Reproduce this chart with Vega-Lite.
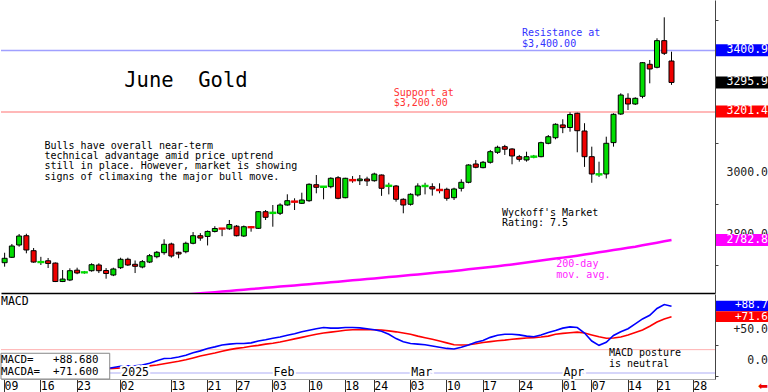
{
  "$schema": "https://vega.github.io/schema/vega-lite/v6.json",
  "padding": 0,
  "spacing": 1,
  "background": "#ffffff",
  "config": {"view": {"stroke": null}, "font": "DejaVu Sans Mono", "axis": {"grid": false}},
  "datasets": {
    "gold": [
      {"date":"2024-12-09","open":2708.9,"high":2741.3,"low":2695.9,"close":2723.2},
      {"date":"2024-12-10","open":2726.5,"high":2769.8,"low":2724.2,"close":2763.3},
      {"date":"2024-12-11","open":2766.5,"high":2802.4,"low":2761.0,"close":2795.8},
      {"date":"2024-12-12","open":2796.8,"high":2803.2,"low":2739.5,"close":2750.3},
      {"date":"2024-12-13","open":2748.0,"high":2756.8,"low":2708.7,"close":2711.0},
      {"date":"2024-12-16","open":2710.5,"high":2728.0,"low":2701.4,"close":2711.5},
      {"date":"2024-12-17","open":2715.2,"high":2724.2,"low":2691.6,"close":2706.4},
      {"date":"2024-12-18","open":2707.7,"high":2709.6,"low":2645.8,"close":2647.6},
      {"date":"2024-12-19","open":2647.6,"high":2685.1,"low":2645.8,"close":2655.6},
      {"date":"2024-12-20","open":2652.5,"high":2690.6,"low":2649.0,"close":2682.8},
      {"date":"2024-12-23","open":2684.6,"high":2692.6,"low":2671.5,"close":2675.4},
      {"date":"2024-12-24","open":2677.0,"high":2682.0,"low":2673.0,"close":2678.0},
      {"date":"2024-12-26","open":2682.8,"high":2707.0,"low":2679.6,"close":2702.4},
      {"date":"2024-12-27","open":2701.4,"high":2707.0,"low":2675.2,"close":2682.8},
      {"date":"2024-12-30","open":2683.5,"high":2691.3,"low":2656.8,"close":2673.7,"macd":-13,"signal":-13},
      {"date":"2024-12-31","open":2668.8,"high":2692.6,"low":2665.2,"close":2688.4,"macd":-11,"signal":-12.5},
      {"date":"2025-01-02","open":2692.6,"high":2725.2,"low":2688.4,"close":2720.0,"macd":-9,"signal":-12},
      {"date":"2025-01-03","open":2720.0,"high":2725.2,"low":2698.2,"close":2701.4,"macd":-8.5,"signal":-11.5},
      {"date":"2025-01-06","open":2703.7,"high":2716.1,"low":2675.2,"close":2697.2,"macd":-8.5,"signal":-11},
      {"date":"2025-01-07","open":2694.9,"high":2717.7,"low":2690.6,"close":2712.2,"macd":-7,"signal":-9.5},
      {"date":"2025-01-08","open":2711.0,"high":2737.2,"low":2707.7,"close":2731.7,"macd":-4,"signal":-8.5,"ma":2595},
      {"date":"2025-01-09","open":2728.4,"high":2747.0,"low":2723.2,"close":2742.8,"macd":0,"signal":-7,"ma":2597},
      {"date":"2025-01-10","open":2741.5,"high":2785.1,"low":2734.8,"close":2768.8,"macd":3.5,"signal":-5,"ma":2599},
      {"date":"2025-01-13","open":2769.8,"high":2774.1,"low":2725.2,"close":2730.7,"macd":4,"signal":-3,"ma":2601},
      {"date":"2025-01-14","open":2742.8,"high":2744.7,"low":2723.2,"close":2737.1,"macd":6,"signal":-1,"ma":2603},
      {"date":"2025-01-15","open":2744.7,"high":2777.3,"low":2739.5,"close":2772.1,"macd":9,"signal":1.5,"ma":2605},
      {"date":"2025-01-16","open":2772.1,"high":2808.7,"low":2768.8,"close":2796.8,"macd":13,"signal":4.5,"ma":2607},
      {"date":"2025-01-17","open":2796.8,"high":2805.3,"low":2780.4,"close":2789.1,"macd":16,"signal":7.5,"ma":2609},
      {"date":"2025-01-21","open":2794.4,"high":2813.9,"low":2765.1,"close":2810.7,"macd":20,"signal":10,"ma":2611},
      {"date":"2025-01-22","open":2810.7,"high":2827.8,"low":2807.4,"close":2820.3,"macd":22.5,"signal":12.5,"ma":2613},
      {"date":"2025-01-23","open":2820.5,"high":2821.0,"low":2795.2,"close":2819.5,"macd":25.5,"signal":15.5,"ma":2615},
      {"date":"2025-01-24","open":2819.3,"high":2848.0,"low":2815.4,"close":2833.3,"macd":27,"signal":18,"ma":2617},
      {"date":"2025-01-27","open":2827.8,"high":2831.5,"low":2794.4,"close":2796.8,"macd":28,"signal":20,"ma":2619},
      {"date":"2025-01-28","open":2795.8,"high":2830.0,"low":2792.6,"close":2826.1,"macd":28,"signal":21.5,"ma":2621},
      {"date":"2025-01-29","open":2825.0,"high":2828.4,"low":2809.9,"close":2824.0,"macd":29,"signal":23.5,"ma":2623},
      {"date":"2025-01-30","open":2820.9,"high":2877.3,"low":2818.6,"close":2875.0,"macd":32,"signal":25,"ma":2625},
      {"date":"2025-01-31","open":2875.0,"high":2880.5,"low":2848.0,"close":2856.8,"macd":34,"signal":27,"ma":2627},
      {"date":"2025-02-03","open":2870.5,"high":2896.8,"low":2826.1,"close":2872.0,"macd":36.5,"signal":28.5,"ma":2629},
      {"date":"2025-02-04","open":2869.8,"high":2902.3,"low":2864.2,"close":2896.8,"macd":38.5,"signal":30.5,"ma":2631},
      {"date":"2025-02-05","open":2896.8,"high":2931.7,"low":2894.5,"close":2910.8,"macd":41.5,"signal":33,"ma":2633},
      {"date":"2025-02-06","open":2908.5,"high":2918.6,"low":2880.5,"close":2907.0,"macd":44,"signal":35.5,"ma":2635},
      {"date":"2025-02-07","open":2902.3,"high":2936.9,"low":2900.1,"close":2913.1,"macd":47,"signal":38,"ma":2637},
      {"date":"2025-02-10","open":2910.8,"high":2967.5,"low":2907.2,"close":2964.2,"macd":49.5,"signal":40.5,"ma":2639},
      {"date":"2025-02-11","open":2962.9,"high":2994.5,"low":2934.9,"close":2954.5,"macd":52,"signal":43,"ma":2641},
      {"date":"2025-02-12","open":2955.5,"high":2958.7,"low":2915.4,"close":2957.0,"macd":54,"signal":45,"ma":2643},
      {"date":"2025-02-13","open":2956.4,"high":2987.0,"low":2951.2,"close":2983.8,"macd":53,"signal":46.5,"ma":2645.1},
      {"date":"2025-02-14","open":2985.7,"high":2991.0,"low":2915.4,"close":2918.6,"macd":53,"signal":48,"ma":2647.2},
      {"date":"2025-02-18","open":2920.6,"high":2985.5,"low":2918.6,"close":2983.8,"macd":54,"signal":49.5,"ma":2649.3},
      {"date":"2025-02-19","open":2978.5,"high":2991.0,"low":2969.2,"close":2977.0,"macd":54,"signal":50.5,"ma":2651.4},
      {"date":"2025-02-20","open":2975.9,"high":2994.5,"low":2961.9,"close":2981.5,"macd":53.5,"signal":50.5,"ma":2653.5},
      {"date":"2025-02-21","open":2981.5,"high":2988.9,"low":2958.7,"close":2975.0,"macd":52,"signal":50.5,"ma":2655.6},
      {"date":"2025-02-24","open":2975.9,"high":3002.0,"low":2972.7,"close":2997.7,"macd":50.5,"signal":50.5,"ma":2657.7},
      {"date":"2025-02-25","open":2994.5,"high":2996.1,"low":2926.6,"close":2951.2,"macd":48,"signal":50,"ma":2659.8},
      {"date":"2025-02-26","open":2958.5,"high":2969.2,"low":2931.4,"close":2960.0,"macd":43,"signal":48.5,"ma":2662},
      {"date":"2025-02-27","open":2958.7,"high":2962.0,"low":2907.6,"close":2915.4,"macd":36,"signal":47,"ma":2664.2},
      {"date":"2025-02-28","open":2915.4,"high":2918.6,"low":2869.8,"close":2896.8,"macd":31,"signal":45,"ma":2666.4},
      {"date":"2025-03-03","open":2899.2,"high":2935.0,"low":2894.9,"close":2931.7,"macd":28,"signal":43,"ma":2668.6},
      {"date":"2025-03-04","open":2929.4,"high":2967.5,"low":2924.2,"close":2958.7,"macd":27,"signal":40,"ma":2670.8},
      {"date":"2025-03-05","open":2958.0,"high":2969.2,"low":2931.4,"close":2959.5,"macd":26,"signal":37.5,"ma":2673},
      {"date":"2025-03-06","open":2956.4,"high":2967.5,"low":2927.4,"close":2949.0,"macd":24,"signal":35,"ma":2675.3},
      {"date":"2025-03-07","open":2946.5,"high":2967.5,"low":2934.9,"close":2945.0,"macd":22,"signal":32,"ma":2677.6},
      {"date":"2025-03-10","open":2948.0,"high":2953.2,"low":2910.8,"close":2918.6,"macd":20,"signal":29,"ma":2679.8},
      {"date":"2025-03-11","open":2920.6,"high":2953.2,"low":2913.1,"close":2949.0,"macd":19,"signal":26,"ma":2682},
      {"date":"2025-03-12","open":2951.2,"high":2980.5,"low":2940.8,"close":2970.8,"macd":22,"signal":25.5,"ma":2684.6},
      {"date":"2025-03-13","open":2970.8,"high":3029.4,"low":2967.5,"close":3027.1,"macd":25.5,"signal":26,"ma":2687.2},
      {"date":"2025-03-14","open":3030.4,"high":3043.4,"low":3016.4,"close":3019.7,"macd":30,"signal":27.5,"ma":2689.8},
      {"date":"2025-03-17","open":3018.4,"high":3040.2,"low":3016.4,"close":3036.0,"macd":33,"signal":29.5,"ma":2692.4},
      {"date":"2025-03-18","open":3036.0,"high":3076.1,"low":3031.7,"close":3070.5,"macd":38,"signal":31,"ma":2695},
      {"date":"2025-03-19","open":3068.5,"high":3090.0,"low":3063.2,"close":3084.8,"macd":41.5,"signal":32.5,"ma":2697.6},
      {"date":"2025-03-20","open":3086.8,"high":3092.7,"low":3059.9,"close":3078.4,"macd":43,"signal":33.5,"ma":2700.3},
      {"date":"2025-03-21","open":3079.3,"high":3081.7,"low":3029.4,"close":3056.5,"macd":43,"signal":35,"ma":2703},
      {"date":"2025-03-24","open":3054.2,"high":3059.9,"low":3038.0,"close":3045.7,"macd":42,"signal":36,"ma":2706.2},
      {"date":"2025-03-25","open":3043.4,"high":3070.4,"low":3038.0,"close":3054.2,"macd":40,"signal":37,"ma":2709.4},
      {"date":"2025-03-26","open":3053.5,"high":3059.9,"low":3049.0,"close":3055.0,"macd":39,"signal":37.5,"ma":2712.6},
      {"date":"2025-03-27","open":3054.2,"high":3103.0,"low":3052.2,"close":3099.8,"macd":42,"signal":38.5,"ma":2715.8},
      {"date":"2025-03-28","open":3097.8,"high":3124.8,"low":3094.6,"close":3119.3,"macd":46,"signal":40,"ma":2719},
      {"date":"2025-03-31","open":3116.0,"high":3162.9,"low":3110.8,"close":3159.7,"macd":49,"signal":43,"ma":2722.2},
      {"date":"2025-04-01","open":3157.6,"high":3176.0,"low":3130.8,"close":3148.8,"macd":53,"signal":44.5,"ma":2725.4},
      {"date":"2025-04-02","open":3149.2,"high":3198.7,"low":3135.5,"close":3191.6,"macd":55,"signal":45.5,"ma":2728.6},
      {"date":"2025-04-03","open":3195.5,"high":3197.5,"low":3068.5,"close":3138.8,"macd":54,"signal":46.5,"ma":2731.8},
      {"date":"2025-04-04","open":3137.8,"high":3163.2,"low":3020.9,"close":3054.2,"macd":45,"signal":45,"ma":2735.4},
      {"date":"2025-04-07","open":3054.2,"high":3086.8,"low":2969.2,"close":2997.8,"macd":32,"signal":42,"ma":2739},
      {"date":"2025-04-08","open":2996.0,"high":3037.8,"low":2988.4,"close":2997.5,"macd":25,"signal":39,"ma":2742.7},
      {"date":"2025-04-09","open":2997.8,"high":3119.3,"low":2983.2,"close":3097.8,"macd":30,"signal":36.5,"ma":2746.4},
      {"date":"2025-04-10","open":3100.0,"high":3195.5,"low":3086.8,"close":3192.2,"macd":41,"signal":37,"ma":2750},
      {"date":"2025-04-11","open":3193.2,"high":3260.6,"low":3190.0,"close":3255.1,"macd":47,"signal":38.5,"ma":2753.7},
      {"date":"2025-04-14","open":3244.3,"high":3260.6,"low":3206.2,"close":3225.8,"macd":52,"signal":42,"ma":2757.4},
      {"date":"2025-04-15","open":3225.8,"high":3247.6,"low":3222.5,"close":3244.3,"macd":60,"signal":46,"ma":2761},
      {"date":"2025-04-16","open":3250.8,"high":3362.4,"low":3244.3,"close":3360.3,"macd":68,"signal":50,"ma":2765.4},
      {"date":"2025-04-17","open":3355.1,"high":3369.1,"low":3293.2,"close":3339.8,"macd":74,"signal":56,"ma":2769.8},
      {"date":"2025-04-21","open":3345.3,"high":3439.8,"low":3342.0,"close":3432.1,"macd":85,"signal":63,"ma":2774.2},
      {"date":"2025-04-22","open":3432.1,"high":3508.1,"low":3385.4,"close":3391.0,"macd":91.5,"signal":68,"ma":2778.5},
      {"date":"2025-04-23","open":3365.8,"high":3396.1,"low":3288.1,"close":3295.9,"macd":88.7,"signal":71.6,"ma":2782.8}
    ],
    "months": [
      {"date":"2025-01-02","label":"2025"},
      {"date":"2025-02-03","label":"Feb"},
      {"date":"2025-03-03","label":"Mar"},
      {"date":"2025-04-01","label":"Apr"}
    ]
  },
  "vconcat": [
    {
      "width": 714,
      "height": 293,
      "data": {"name": "gold"},
      "layer": [
        {"data": {"values": [{}]}, "mark": {"type": "rule", "color": "#a0a0ff", "strokeWidth": 1.5}, "encoding": {"y": {"datum": 3400, "type": "quantitative"}}},
        {"data": {"values": [{}]}, "mark": {"type": "rule", "color": "#ffa0a0", "strokeWidth": 1.5}, "encoding": {"y": {"datum": 3200, "type": "quantitative"}}},
        {"mark": {"type": "line", "color": "#ff00ff", "strokeWidth": 2.5, "clip": true}, "encoding": {"x": {"field": "date", "type": "ordinal"}, "y": {"field": "ma", "type": "quantitative", "axis": {"title": null}}}},
        {"mark": {"type": "rule", "color": "#000000", "strokeWidth": 1}, "encoding": {"x": {"field": "date", "type": "ordinal"}, "y": {"field": "low", "type": "quantitative", "axis": {"title": null}}, "y2": {"field": "high"}}},
        {
          "mark": {"type": "bar", "size": 5},
          "encoding": {
            "x": {"field": "date", "type": "ordinal",
              "scale": {"type": "band", "paddingInner": 0, "paddingOuter": 0.25, "align": 0,
                "domain": ["2024-12-09","2024-12-10","2024-12-11","2024-12-12","2024-12-13","2024-12-16","2024-12-17","2024-12-18","2024-12-19","2024-12-20","2024-12-23","2024-12-24","2024-12-26","2024-12-27","2024-12-30","2024-12-31","2025-01-02","2025-01-03","2025-01-06","2025-01-07","2025-01-08","2025-01-09","2025-01-10","2025-01-13","2025-01-14","2025-01-15","2025-01-16","2025-01-17","2025-01-21","2025-01-22","2025-01-23","2025-01-24","2025-01-27","2025-01-28","2025-01-29","2025-01-30","2025-01-31","2025-02-03","2025-02-04","2025-02-05","2025-02-06","2025-02-07","2025-02-10","2025-02-11","2025-02-12","2025-02-13","2025-02-14","2025-02-18","2025-02-19","2025-02-20","2025-02-21","2025-02-24","2025-02-25","2025-02-26","2025-02-27","2025-02-28","2025-03-03","2025-03-04","2025-03-05","2025-03-06","2025-03-07","2025-03-10","2025-03-11","2025-03-12","2025-03-13","2025-03-14","2025-03-17","2025-03-18","2025-03-19","2025-03-20","2025-03-21","2025-03-24","2025-03-25","2025-03-26","2025-03-27","2025-03-28","2025-03-31","2025-04-01","2025-04-02","2025-04-03","2025-04-04","2025-04-07","2025-04-08","2025-04-09","2025-04-10","2025-04-11","2025-04-14","2025-04-15","2025-04-16","2025-04-17","2025-04-21","2025-04-22","2025-04-23","2025-04-24","2025-04-25","2025-04-28","2025-04-29","2025-04-30"]},
              "axis": {"labels": false, "ticks": false, "domainColor": "#000000", "domainWidth": 1.5, "title": null}},
            "y": {"field": "open", "type": "quantitative",
              "scale": {"domain": [2610.2, 3564.5], "nice": false, "zero": false},
              "axis": {"orient": "right", "title": null, "values": [2700, 2800, 2900, 3000, 3100, 3200, 3300, 3400, 3500],
                "labels": false, "tickSize": 3, "tickColor": "#444444", "domainColor": "#444444"}},
            "y2": {"field": "close"},
            "fill": {"condition": {"test": "datum.close >= datum.open", "value": "#00dd00"}, "value": "#ee0000"},
            "stroke": {"condition": [
              {"test": "abs(datum.close - datum.open) < 3 && datum.close >= datum.open", "value": "#00dd00"},
              {"test": "abs(datum.close - datum.open) < 3", "value": "#ee0000"}], "value": "#000000"},
            "strokeWidth": {"condition": {"test": "abs(datum.close - datum.open) < 3", "value": 2}, "value": 1}
          }
        },
        {"data": {"values": [{}]}, "mark": {"type": "text", "text": "June\u00a0\u00a0Gold", "fontSize": 20.5, "align": "left", "baseline": "middle", "color": "#000000"},
          "encoding": {"x": {"datum": "2025-01-03", "type": "ordinal", "bandPosition": 0}, "y": {"datum": 3300.7, "type": "quantitative"}}},
        {"data": {"values": [{}]}, "mark": {"type": "text", "text": ["Bulls have overall near-term", "technical advantage amid price uptrend", "still in place. However, market is showing", "signs of climaxing the major bull move."], "fontSize": 10, "lineHeight": 10.3, "align": "left", "baseline": "middle", "color": "#000000"},
          "encoding": {"x": {"datum": "2024-12-17", "type": "ordinal", "bandPosition": 0}, "y": {"datum": 3090.0, "type": "quantitative"}}},
        {"data": {"values": [{}]}, "mark": {"type": "text", "text": ["Resistance at", "$3,400.00"], "fontSize": 10, "lineHeight": 10.2, "align": "left", "baseline": "middle", "color": "#3333ff"},
          "encoding": {"x": {"datum": "2025-03-24", "type": "ordinal", "bandPosition": 0.87}, "y": {"datum": 3456.0, "type": "quantitative"}}},
        {"data": {"values": [{}]}, "mark": {"type": "text", "text": ["Support at", "$3,200.00"], "fontSize": 10, "lineHeight": 10.2, "align": "left", "baseline": "middle", "color": "#ff3333"},
          "encoding": {"x": {"datum": "2025-02-27", "type": "ordinal", "bandPosition": 0.17}, "y": {"datum": 3261.6, "type": "quantitative"}}},
        {"data": {"values": [{}]}, "mark": {"type": "text", "text": ["Wyckoff's Market", "Rating: 7.5"], "fontSize": 10, "lineHeight": 10.2, "align": "left", "baseline": "middle", "color": "#000000"},
          "encoding": {"x": {"datum": "2025-03-20", "type": "ordinal", "bandPosition": 0.1}, "y": {"datum": 2871.7, "type": "quantitative"}}},
        {"data": {"values": [{}]}, "mark": {"type": "text", "text": ["200-day", "mov. avg."], "fontSize": 10, "lineHeight": 11, "align": "left", "baseline": "middle", "color": "#ff22ff"},
          "encoding": {"x": {"datum": "2025-03-31", "type": "ordinal", "bandPosition": 0.6}, "y": {"datum": 2704.7, "type": "quantitative"}}},
        {"data": {"values": [{}]}, "mark": {"type": "text", "text": "3000.0", "x": {"expr": "width + 53"}, "align": "right", "baseline": "middle", "color": "#222222", "fontSize": 11.5}, "encoding": {"y": {"datum": 3000, "type": "quantitative"}}},
        {"data": {"values": [{}]}, "mark": {"type": "text", "text": "2800.0", "x": {"expr": "width + 53"}, "align": "right", "baseline": "middle", "color": "#222222", "fontSize": 11.5}, "encoding": {"y": {"datum": 2800, "type": "quantitative"}}},
        {"data": {"values": [{}]}, "mark": {"type": "rect", "color": "#0000ff", "x": {"expr": "width + 1"}, "x2": {"expr": "width + 54"}}, "encoding": {"y": {"datum": 3420.5, "type": "quantitative"}, "y2": {"datum": 3381.0}}},
        {"data": {"values": [{}]}, "mark": {"type": "rect", "color": "#000000", "x": {"expr": "width + 1"}, "x2": {"expr": "width + 54"}}, "encoding": {"y": {"datum": 3315.4, "type": "quantitative"}, "y2": {"datum": 3276.4}}},
        {"data": {"values": [{}]}, "mark": {"type": "rect", "color": "#ff0000", "x": {"expr": "width + 1"}, "x2": {"expr": "width + 54"}}, "encoding": {"y": {"datum": 3220.9, "type": "quantitative"}, "y2": {"datum": 3181.9}}},
        {"data": {"values": [{}]}, "mark": {"type": "rect", "color": "#ff00ff", "x": {"expr": "width + 1"}, "x2": {"expr": "width + 54"}}, "encoding": {"y": {"datum": 2802.3, "type": "quantitative"}, "y2": {"datum": 2763.3}}},
        {"data": {"values": [{}]}, "mark": {"type": "text", "text": "3400.9", "x": {"expr": "width + 53"}, "align": "right", "baseline": "middle", "color": "#ffffff", "fontSize": 11.5}, "encoding": {"y": {"datum": 3400.9, "type": "quantitative"}}},
        {"data": {"values": [{}]}, "mark": {"type": "text", "text": "3295.9", "x": {"expr": "width + 53"}, "align": "right", "baseline": "middle", "color": "#ffffff", "fontSize": 11.5}, "encoding": {"y": {"datum": 3295.9, "type": "quantitative"}}},
        {"data": {"values": [{}]}, "mark": {"type": "text", "text": "3201.4", "x": {"expr": "width + 53"}, "align": "right", "baseline": "middle", "color": "#ffffff", "fontSize": 11.5}, "encoding": {"y": {"datum": 3201.4, "type": "quantitative"}}},
        {"data": {"values": [{}]}, "mark": {"type": "text", "text": "2782.8", "x": {"expr": "width + 53"}, "align": "right", "baseline": "middle", "color": "#ffffff", "fontSize": 11.5}, "encoding": {"y": {"datum": 2782.8, "type": "quantitative"}}}
      ]
    },
    {
      "width": 714,
      "height": 85,
      "data": {"name": "gold"},
      "layer": [
        {"data": {"values": [{}]}, "mark": {"type": "rule", "color": "#ffb0b0", "strokeWidth": 1}, "encoding": {"y": {"datum": 18, "type": "quantitative"}}},
        {"data": {"values": [{}]}, "mark": {"type": "rule", "color": "#c8c8f8", "strokeWidth": 1.5}, "encoding": {"y": {"datum": -20, "type": "quantitative"}}},
        {"mark": {"type": "line", "color": "#ff0000", "strokeWidth": 1.6}, "encoding": {"x": {"field": "date", "type": "ordinal"}, "y": {"field": "signal", "type": "quantitative", "axis": {"title": null}}}},
        {"mark": {"type": "line", "color": "#0000ff", "strokeWidth": 1.6},
          "encoding": {
            "x": {"field": "date", "type": "ordinal",
              "scale": {"type": "band", "paddingInner": 0, "paddingOuter": 0.25, "align": 0,
                "domain": ["2024-12-09","2024-12-10","2024-12-11","2024-12-12","2024-12-13","2024-12-16","2024-12-17","2024-12-18","2024-12-19","2024-12-20","2024-12-23","2024-12-24","2024-12-26","2024-12-27","2024-12-30","2024-12-31","2025-01-02","2025-01-03","2025-01-06","2025-01-07","2025-01-08","2025-01-09","2025-01-10","2025-01-13","2025-01-14","2025-01-15","2025-01-16","2025-01-17","2025-01-21","2025-01-22","2025-01-23","2025-01-24","2025-01-27","2025-01-28","2025-01-29","2025-01-30","2025-01-31","2025-02-03","2025-02-04","2025-02-05","2025-02-06","2025-02-07","2025-02-10","2025-02-11","2025-02-12","2025-02-13","2025-02-14","2025-02-18","2025-02-19","2025-02-20","2025-02-21","2025-02-24","2025-02-25","2025-02-26","2025-02-27","2025-02-28","2025-03-03","2025-03-04","2025-03-05","2025-03-06","2025-03-07","2025-03-10","2025-03-11","2025-03-12","2025-03-13","2025-03-14","2025-03-17","2025-03-18","2025-03-19","2025-03-20","2025-03-21","2025-03-24","2025-03-25","2025-03-26","2025-03-27","2025-03-28","2025-03-31","2025-04-01","2025-04-02","2025-04-03","2025-04-04","2025-04-07","2025-04-08","2025-04-09","2025-04-10","2025-04-11","2025-04-14","2025-04-15","2025-04-16","2025-04-17","2025-04-21","2025-04-22","2025-04-23","2025-04-24","2025-04-25","2025-04-28","2025-04-29","2025-04-30"]},
              "axis": {"orient": "bottom", "title": null,
                "values": ["2024-12-09","2024-12-16","2024-12-23","2025-01-02","2025-01-13","2025-01-21","2025-01-27","2025-02-03","2025-02-10","2025-02-18","2025-02-24","2025-03-03","2025-03-10","2025-03-17","2025-03-24","2025-04-01","2025-04-07","2025-04-14","2025-04-21","2025-04-28"],
                "labelExpr": "substring(datum.value, 8, 10)", "labelAngle": 0,
                "tickSize": 13, "tickColor": "#333333", "domainColor": "#aaaaaa", "labelAlign": "left", "labelBaseline": "top",
                "labelPadding": -12, "labelDx": 2, "labelFontSize": 11.5, "labelColor": "#000000", "labelOverlap": false, "labelBound": false}},
            "y": {"field": "macd", "type": "quantitative",
              "scale": {"domain": [-29.8, 108.6], "nice": false, "zero": false},
              "axis": {"orient": "right", "title": null, "values": [-25, 0, 25, 50, 75, 100],
                "labels": false, "tickSize": 3, "tickColor": "#444444", "domainColor": "#444444"}}
          }
        },
        {"data": {"name": "months"}, "mark": {"type": "text", "align": "left", "baseline": "middle", "fontSize": 11.5, "fill": "#ffffff", "stroke": "#ffffff", "strokeWidth": 4},
          "encoding": {"x": {"field": "date", "type": "ordinal", "bandPosition": 0.6}, "y": {"datum": -20, "type": "quantitative"}, "text": {"field": "label"}}},
        {"data": {"name": "months"}, "mark": {"type": "text", "align": "left", "baseline": "middle", "fontSize": 11.5, "color": "#000000"},
          "encoding": {"x": {"field": "date", "type": "ordinal", "bandPosition": 0.6}, "y": {"datum": -20, "type": "quantitative"}, "text": {"field": "label"}}},
        {"data": {"values": [{}]}, "mark": {"type": "rect", "fill": "#ffffff", "stroke": "#888888", "strokeWidth": 1},
          "encoding": {"x": {"datum": "2024-12-09", "type": "ordinal", "bandPosition": 0}, "x2": {"datum": "2024-12-30", "bandPosition": 1}, "y": {"datum": 12.1, "type": "quantitative"}, "y2": {"datum": -29.8}}},
        {"data": {"values": [{}]}, "mark": {"type": "text", "text": ["MACD=\u00a0\u00a0\u00a0+88.680", "MACDA=\u00a0\u00a0+71.600"], "fontSize": 10.8, "lineHeight": 11.6, "align": "left", "baseline": "middle", "color": "#000000"},
          "encoding": {"x": {"datum": "2024-12-09", "type": "ordinal", "bandPosition": 0}, "y": {"datum": 0.5, "type": "quantitative"}}},
        {"data": {"values": [{}]}, "mark": {"type": "text", "text": "MACD", "fontSize": 11.5, "align": "left", "baseline": "middle", "color": "#000000"},
          "encoding": {"x": {"datum": "2024-12-09", "type": "ordinal", "bandPosition": 0}, "y": {"datum": 96, "type": "quantitative"}}},
        {"data": {"values": [{}]}, "mark": {"type": "text", "text": ["MACD posture", "\u00a0is neutral"], "fontSize": 10, "lineHeight": 10.7, "align": "left", "baseline": "middle", "color": "#000000"},
          "encoding": {"x": {"datum": "2025-04-09", "type": "ordinal", "bandPosition": 0.86}, "y": {"datum": 12.0, "type": "quantitative"}}},
        {"data": {"values": [{}]}, "mark": {"type": "text", "text": "+50.0", "x": {"expr": "width + 53"}, "align": "right", "baseline": "middle", "color": "#222222", "fontSize": 11.5}, "encoding": {"y": {"datum": 50, "type": "quantitative"}}},
        {"data": {"values": [{}]}, "mark": {"type": "text", "text": "0.0", "x": {"expr": "width + 53"}, "align": "right", "baseline": "middle", "color": "#222222", "fontSize": 11.5}, "encoding": {"y": {"datum": 0, "type": "quantitative"}}},
        {"data": {"values": [{}]}, "mark": {"type": "rect", "color": "#0000ff", "x": {"expr": "width + 1"}, "x2": {"expr": "width + 54"}}, "encoding": {"y": {"datum": 97.5, "type": "quantitative"}, "y2": {"datum": 80.5}}},
        {"data": {"values": [{}]}, "mark": {"type": "rect", "color": "#ff0000", "x": {"expr": "width + 1"}, "x2": {"expr": "width + 54"}}, "encoding": {"y": {"datum": 80.5, "type": "quantitative"}, "y2": {"datum": 63.0}}},
        {"data": {"values": [{}]}, "mark": {"type": "text", "text": "+88.7", "x": {"expr": "width + 53"}, "align": "right", "baseline": "middle", "color": "#ffffff", "fontSize": 11}, "encoding": {"y": {"datum": 90, "type": "quantitative"}}},
        {"data": {"values": [{}]}, "mark": {"type": "text", "text": "+71.6", "x": {"expr": "width + 53"}, "align": "right", "baseline": "middle", "color": "#ffffff", "fontSize": 11}, "encoding": {"y": {"datum": 71.2, "type": "quantitative"}}},
        {"data": {"values": [{}]}, "mark": {"type": "text", "text": "⬅", "font": "DejaVu Sans", "x": {"expr": "width + 48"}, "align": "center", "baseline": "middle", "color": "#ee0000", "fontSize": 12}, "encoding": {"y": {"datum": -41, "type": "quantitative"}}}
      ]
    }
  ]
}
